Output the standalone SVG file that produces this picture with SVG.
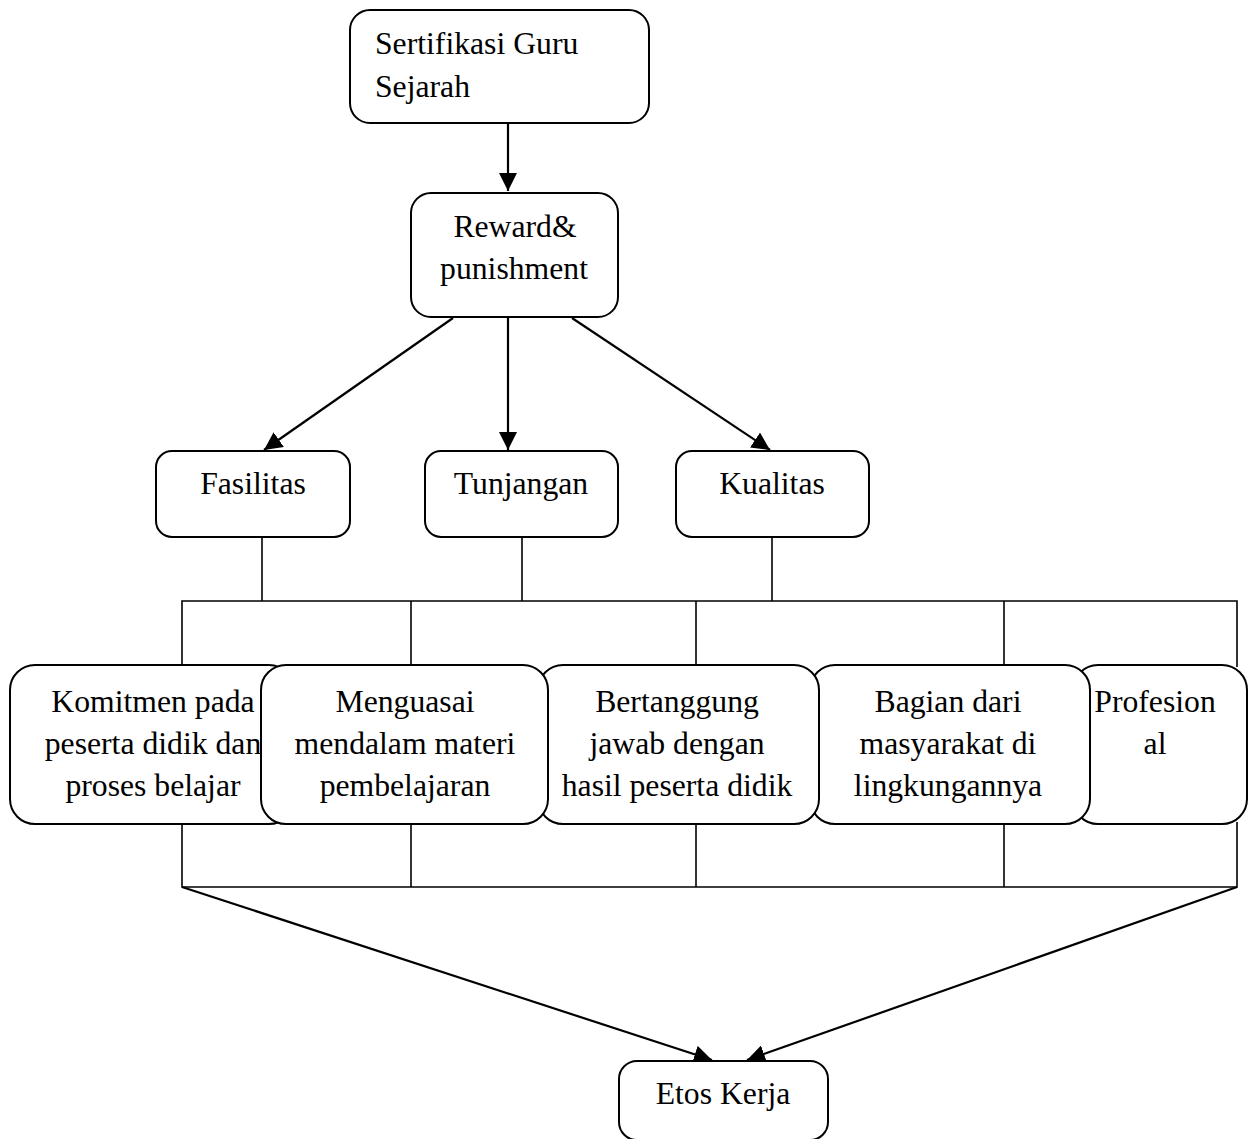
<svg xmlns="http://www.w3.org/2000/svg" width="1256" height="1139" viewBox="0 0 1256 1139">
<style>
.box{fill:#fff;stroke:#000;stroke-width:2}
.t{font-family:"Liberation Serif","Times New Roman",serif;font-size:31.7px;fill:#000}
.c{text-anchor:middle}
.arr{stroke:#000;stroke-width:2.2;fill:none;marker-end:url(#ah)}
.ln{stroke:#000;stroke-width:1.6;fill:none}
</style>
<defs>
<marker id="ah" markerUnits="userSpaceOnUse" markerWidth="18" markerHeight="18" viewBox="0 0 16 16" refX="16" refY="8" orient="auto">
<path d="M0,0 L16,8 L0,16 Z" fill="#000"/>
</marker>
</defs>
<rect width="1256" height="1139" fill="#fff"/>
<g id="connectors">
<line class="arr" x1="508" y1="123" x2="508" y2="191"/>
<line class="arr" x1="453" y1="318" x2="264" y2="450"/>
<line class="arr" x1="508" y1="318" x2="508" y2="450"/>
<line class="arr" x1="572" y1="318" x2="770" y2="450"/>
<line class="ln" x1="262" y1="537" x2="262" y2="601"/>
<line class="ln" x1="522" y1="537" x2="522" y2="601"/>
<line class="ln" x1="772" y1="537" x2="772" y2="601"/>
<polyline class="ln" points="182,665 182,601 1237,601 1237,667"/>
<line class="ln" x1="411" y1="601" x2="411" y2="665"/>
<line class="ln" x1="696" y1="601" x2="696" y2="665"/>
<line class="ln" x1="1004" y1="601" x2="1004" y2="665"/>
<polyline class="ln" points="182,824 182,887 1237,887 1237,822"/>
<line class="ln" x1="411" y1="824" x2="411" y2="887"/>
<line class="ln" x1="696" y1="824" x2="696" y2="887"/>
<line class="ln" x1="1004" y1="824" x2="1004" y2="887"/>
<line class="arr" x1="182" y1="887" x2="712" y2="1060"/>
<line class="arr" x1="1237" y1="887" x2="747" y2="1060"/>
</g>
<g id="n-sertifikasi">
<rect class="box" x="350" y="10" width="299" height="113" rx="20"/>
<text class="t" x="375" y="54">Sertifikasi Guru</text>
<text class="t" x="375" y="97">Sejarah</text>
</g>
<g id="n-reward">
<rect class="box" x="411" y="193" width="207" height="124" rx="20"/>
<text class="t c" x="515" y="237">Reward&amp;</text>
<text class="t c" x="514" y="279">punishment</text>
</g>
<g id="n-fasilitas">
<rect class="box" x="156" y="451" width="194" height="86" rx="16"/>
<text class="t c" x="253" y="494">Fasilitas</text>
</g>
<g id="n-tunjangan">
<rect class="box" x="425" y="451" width="193" height="86" rx="16"/>
<text class="t c" x="521" y="494">Tunjangan</text>
</g>
<g id="n-kualitas">
<rect class="box" x="676" y="451" width="193" height="86" rx="16"/>
<text class="t c" x="772" y="494">Kualitas</text>
</g>
<g id="n-profesional">
<rect class="box" x="1073" y="665" width="174" height="159" rx="25"/>
<text class="t c" x="1155" y="712">Profesion</text>
<text class="t c" x="1155" y="754">al</text>
</g>
<g id="n-bagian">
<rect class="box" x="810" y="665" width="280" height="159" rx="25"/>
<text class="t c" x="948" y="712">Bagian dari</text>
<text class="t c" x="948" y="754">masyarakat di</text>
<text class="t c" x="948" y="796">lingkungannya</text>
</g>
<g id="n-bertanggung">
<rect class="box" x="538" y="665" width="281" height="159" rx="25"/>
<text class="t c" x="677" y="712">Bertanggung</text>
<text class="t c" x="677" y="754">jawab dengan</text>
<text class="t c" x="677" y="796">hasil peserta didik</text>
</g>
<g id="n-komitmen">
<rect class="box" x="10" y="665" width="284" height="159" rx="25"/>
<text class="t c" x="153" y="712">Komitmen pada</text>
<text class="t c" x="153" y="754">peserta didik dan</text>
<text class="t c" x="153" y="796">proses belajar</text>
</g>
<g id="n-menguasai">
<rect class="box" x="261" y="665" width="287" height="159" rx="25"/>
<text class="t c" x="405" y="712">Menguasai</text>
<text class="t c" x="405" y="754">mendalam materi</text>
<text class="t c" x="405" y="796">pembelajaran</text>
</g>
<g id="n-etos">
<rect class="box" x="619" y="1061" width="209" height="79" rx="18"/>
<text class="t c" x="723" y="1104">Etos Kerja</text>
</g>
</svg>
